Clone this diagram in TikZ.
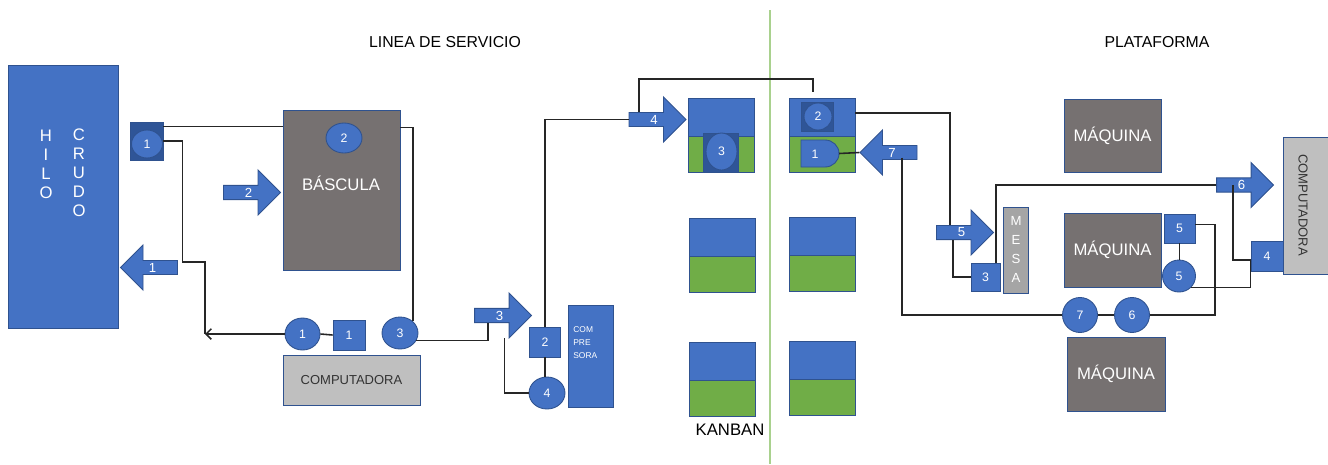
\documentclass[tikz,border=0pt]{standalone}
\usepackage{fontspec}
\setmainfont{Liberation Sans}
\usetikzlibrary{positioning,shapes.geometric,shapes.arrows,arrows.meta}

\definecolor{blu}{HTML}{4472C4}
\definecolor{bluedge}{HTML}{2F528F}
\definecolor{bludark}{HTML}{2F5597}
\definecolor{machgray}{HTML}{767171}
\definecolor{pcgray}{HTML}{BFBFBF}
\definecolor{mesagray}{HTML}{A5A5A5}
\definecolor{kgreen}{HTML}{70AD47}
\definecolor{splitgreen}{HTML}{A9D18E}

\begin{document}
\begin{tikzpicture}[x=0.02cm,y=-0.02cm,>={Straight Barb[length=3pt,width=6pt]},
    box/.style={rectangle,draw=bluedge,line width=0.5pt,inner sep=0pt,text=white},
    bluebox/.style={box,fill=blu},
    machine/.style={box,fill=machgray,font=\fontsize{9.5}{11}\selectfont},
    pc/.style={box,fill=pcgray,text=black!80,font=\fontsize{7.4}{9}\selectfont},
    numsq/.style={bluebox,font=\fontsize{7}{8}\selectfont},
    numdot/.style={ellipse,fill=blu,draw=bluedge,line width=0.5pt,inner sep=0pt,text=white,font=\fontsize{7}{8}\selectfont},
    blkarrow/.style={single arrow,fill=blu,draw=bluedge,line width=0.5pt,inner sep=0pt,minimum height=1.14cm,minimum width=0.9cm,single arrow head extend=0.22cm,text=white,font=\fontsize{7.5}{8}\selectfont},
    kb/.style={bluebox,minimum width=1.32cm,minimum height=0.76cm},
    kg/.style={box,fill=kgreen,minimum width=1.32cm,minimum height=0.72cm},
    wire/.style={draw=black!85,line width=0.9pt},
    title/.style={font=\fontsize{9}{11}\selectfont}]
\useasboundingbox (0,0) rectangle (1328,464);

% titles
\node[title] (linea) at (445,42) {LINEA DE SERVICIO};
\node[title] (plata) at (1157,42) {PLATAFORMA};
\node[title,font=\fontsize{9.5}{11}\selectfont] (kanban) at (730,430) {KANBAN};

% division
\coordinate (divtop) at (770,10);
\coordinate (divbot) at (770,464);
\draw[splitgreen,line width=1.5pt] (divtop) -- (divbot);

% linea de servicio
\node[bluebox,minimum width=2.2cm,minimum height=5.26cm] (hilo) at (63,196.5) {};
\node[text=white,align=center,font=\fontsize{9.5}{10.8}\selectfont] (hilotxt) at (46,164) {H\\I\\L\\O};
\node[text=white,align=center,font=\fontsize{9.5}{10.8}\selectfont] (crudotxt) at (79,173) {C\\R\\U\\D\\O};

\node[box,fill=bludark,minimum width=0.66cm,minimum height=0.76cm] (sqa) at (146.5,141) {};
\node[numdot,minimum width=0.62cm,minimum height=0.56cm] (n1a) at (147,144) {1};

\node[machine,minimum width=2.34cm,minimum height=3.2cm] (bascula) at (341.5,190) {};
\node[numdot,minimum width=0.72cm,minimum height=0.6cm] (n2b) at (344,138) {2};
\node[text=white,font=\fontsize{9.5}{11}\selectfont] (bastxt) at (341,183) {BÁSCULA};

\node[blkarrow] (a2) at (248.5,192.5) {2};
\node[blkarrow,shape border rotate=180] (a1) at (152.5,267.5) {1};

\node[pc,minimum width=2.74cm,minimum height=1cm] (pc1) at (351.5,380) {COMPUTADORA};
\node[numdot,minimum width=0.7cm,minimum height=0.64cm] (c1) at (302.5,334) {1};
\node[numsq,minimum width=0.64cm,minimum height=0.6cm] (s1) at (349,335) {1};
\node[numdot,minimum width=0.72cm,minimum height=0.64cm] (c3) at (400,333) {3};

\node[blkarrow] (a3) at (499.5,315.5) {3};
\node[numsq,minimum width=0.62cm,minimum height=0.6cm] (s2) at (545,342) {2};
\node[numdot,minimum width=0.72cm,minimum height=0.64cm] (c4) at (547,393) {4};
\node[bluebox,minimum width=0.9cm,minimum height=2.04cm] (compre) at (590.5,356) {};
\node[text=white,align=left,anchor=north west,inner sep=0pt,font=\fontsize{4.8}{7.5}\selectfont] (compretxt) at (573,326) {COM\\PRE\\SORA};

\node[blkarrow] (a4) at (654,119.5) {4};

% kanban
\node[kb] (kb1) at (721,117) {};
\node[kg,below=0pt of kb1] (kg1) {};
\node[kb] (kb2) at (722,237) {};
\node[kg,below=0pt of kb2] (kg2) {};
\node[kb] (kb3) at (722,361) {};
\node[kg,below=0pt of kb3] (kg3) {};
\node[kb] (kb4) at (822,117) {};
\node[kg,below=0pt of kb4] (kg4) {};
\node[kb] (kb5) at (822,236) {};
\node[kg,below=0pt of kb5] (kg5) {};
\node[kb] (kb6) at (822,360) {};
\node[kg,below=0pt of kb6] (kg6) {};

\node[box,fill=bludark,minimum width=0.7cm,minimum height=0.78cm] (k3sq) at (720.5,152.5) {};
\node[numdot,minimum width=0.62cm,minimum height=0.74cm] (k3) at (721.5,151.5) {3};
\node[box,fill=bludark,minimum width=0.64cm,minimum height=0.58cm] (k2sq) at (817,116.5) {};
\node[numdot,minimum width=0.56cm,minimum height=0.54cm] (k2) at (818,116.5) {2};
\draw[fill=blu,draw=bluedge,line width=0.5pt] (801,140) -- (825,140) arc[start angle=-90,end angle=90,x radius=14,y radius=13.5] -- (801,167) -- cycle;
\node[text=white,font=\fontsize{7}{8}\selectfont] (k1) at (815,154) {1};
\coordinate (k1tip) at (839,153.5);
\coordinate (top4) at (813,92);

% plataforma
\node[blkarrow,shape border rotate=180] (a7) at (892,152.5) {7};
\node[blkarrow] (a5) at (961.5,232.5) {5};
\node[blkarrow] (a6) at (1241.5,185) {6};

\node[box,fill=mesagray,minimum width=0.5cm,minimum height=1.72cm] (mesa) at (1015.5,250) {};
\node[text=white,align=center,font=\fontsize{7.5}{10.8}\selectfont] (mesatxt) at (1016,249) {M\\E\\S\\A};
\node[numsq,minimum width=0.58cm,minimum height=0.56cm] (s3) at (985.5,277) {3};

\node[machine,minimum width=1.94cm,minimum height=1.46cm] (maq1) at (1112.5,135.5) {MÁQUINA};
\node[machine,minimum width=1.94cm,minimum height=1.48cm] (maq2) at (1112.5,250) {MÁQUINA};
\node[machine,minimum width=1.96cm,minimum height=1.48cm] (maq3) at (1116,374) {MÁQUINA};

\node[numsq,minimum width=0.62cm,minimum height=0.58cm] (s5) at (1179.5,228.5) {5};
\node[numdot,minimum width=0.66cm,minimum height=0.64cm] (c5) at (1179,276) {5};
\node[numdot,minimum width=0.7cm,minimum height=0.7cm] (c7) at (1080,315) {7};
\node[numdot,minimum width=0.7cm,minimum height=0.7cm] (c6) at (1132,315) {6};

\node[pc,minimum width=1.04cm,minimum height=2.74cm] (pc2) at (1309,205.5) {};
\node[text=black!80,rotate=-90,font=\fontsize{7.4}{9}\selectfont] (pc2txt) at (1303,205) {COMPUTADORA};
\node[numsq,minimum width=0.64cm,minimum height=0.6cm] (s4) at (1267,256) {4};

% wires
\coordinate (sqaup) at ([yshift=-0.1cm]sqa.north east);
\coordinate (basup) at ([yshift=-0.36cm]bascula.north east);
\coordinate (ret) at (205,334);
\draw[wire] (sqaup) -- (sqaup -| bascula.west);
\draw[wire] (sqa.east) -- ++(19,0) |- (205,262) -- (ret);
\draw[wire,->] (c1.west) -- (ret);
\draw[wire] (c1.east) -- (s1.west);
\draw[wire] (basup) -| (c3.north east);
\draw[wire] (c3.-25) -| ([xshift=-0.23cm]a3.south);
\draw[wire] ([xshift=0.1cm,yshift=-0.45cm]a3.center) |- (c4.west);
\draw[wire] (s2.south) -- (s2.south |- c4.north);
\draw[wire] (s2.north) |- (a4.tail);
\draw[wire] ([xshift=-0.3cm]a4.north) -- ++(0,-33) -| (top4);

\draw[wire] (k1tip) -- (a7.tip);
\draw[wire] ([yshift=0.08cm]kb4.east) -| ([xshift=-0.23cm]a5.north);
\draw[wire] ([xshift=0.2cm,yshift=-0.1cm]a7.center) |- (c7.west);
\draw[wire] (c7.east) -- (c6.west);
\draw[wire] (c6.east) -- (1215,315) |- ([yshift=0.08cm]s5.east);
\draw[wire] (s5.south) -- (s5.south |- c5.north);
\draw[wire] (c5.south east) -| ([yshift=-0.08cm]s4.west);
\draw[wire] ([xshift=-0.17cm]a6.center) |- ([yshift=-0.08cm]s4.west);
\draw[wire] ([xshift=-0.17cm]a5.south) |- (s3.west);
\draw[wire] ([xshift=0.21cm]s3.north) |- (a6.tail);
\end{tikzpicture}
\end{document}
